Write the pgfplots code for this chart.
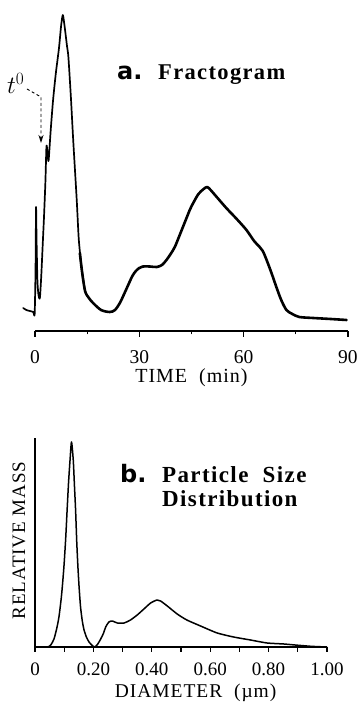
\documentclass[border=0pt]{standalone}
\usepackage{fontspec}
\setmainfont{Liberation Serif}
\newfontfamily\titlefont[LetterSpace=6]{Liberation Serif}
\newfontfamily\labelfont[LetterSpace=5]{Liberation Serif}
\newfontfamily\heavyfont{DejaVu Sans}
\usepackage{pgfplots}
\pgfplotsset{compat=1.18}
\usetikzlibrary{arrows.meta}
\begin{document}
\begin{tikzpicture}
\useasboundingbox (0,0) rectangle (358pt,703pt);
% ---------- a. Fractogram ----------
\begin{axis}[at={(35pt,372pt)}, anchor=south west, scale only axis,
  width=313pt, height=320pt, xmin=0, xmax=90, ymin=0, ymax=320, clip=false,
  axis x line*=bottom, axis y line=none, ytick=\empty,
  xtick={0,30,60,90}, xticklabels={0,30,60,90}, minor xtick={15,45,75},
  tick align=outside, major tick length=6pt, minor tick length=3.5pt,
  tick style={black, line width=1.2pt},
  axis line style={line width=1.4pt},
  xticklabel style={font=\fontsize{19.5}{19.5}\selectfont, anchor=center, inner sep=0pt, yshift=-20pt},
  xlabel={TIME\ \ (min)},
  xlabel style={font=\labelfont\fontsize{20}{20}\selectfont, inner sep=0pt, at={(axis description cs:0.5,-0.145)}, anchor=center}]
\addplot[black, line width=1.7pt, line join=round, line cap=round, smooth, tension=0.4] coordinates {
(-3.4,23) (-2.5,21) (-1.5,20) (-0.5,19) (-0.1,17) (0.15,60) (0.3,124) (0.45,90) (0.7,50) (1.0,36) (1.4,33)
(1.8,55) (2.2,85) (2.6,115) (3.0,150) (3.3,185) (3.6,178) (3.9,170) (4.5,200) (5.2,231) (6.0,258)
(6.9,283) (7.5,305) (8.0,316) (8.5,305) (9.2,285) (9.6,274) (10.3,235) (11.0,190) (12.0,131) (12.6,91) (13.5,60) (14.4,40)
};
\addplot[black, line width=2.6pt, line join=round, line cap=round, smooth, tension=0.5] coordinates {
(12.9,78) (13.5,60) (14.4,40) (15.5,33) (16.7,28) (19,21) (21.5,19) (23,21) (24.4,28) (25.5,36) (26.8,46) (28,55)
(29,60) (30,63) (31,64.5) (33,64.5) (35,64) (36.5,66) (37.8,71) (39,77) (40.2,84) (41.5,95) (43,108)
(44.5,121) (45.5,128) (47,137) (48.5,142) (49.5,144) (50.5,141) (52,135) (55,123) (58,112) (60.8,101)
(63,90) (64.6,84) (65.5,80) (66.6,71) (68,58) (69.4,44) (70.8,31) (72.3,21) (74,17) (76,14) (80,13) (85,12) (89.6,11)
};
\end{axis}
% ---------- b. Particle size distribution ----------
\begin{axis}[at={(35pt,56pt)}, anchor=south west, scale only axis,
  width=292pt, height=209pt, xmin=0, xmax=1, ymin=0, ymax=209, clip=false,
  axis lines*=left, ytick=\empty,
  xtick={0,0.1,0.2,0.3,0.4,0.5,0.6,0.7,0.8,0.9,1.0},
  xticklabels={0,,0.20,,0.40,,0.60,,0.80,,1.00},
  tick align=outside, major tick length=5pt,
  tick style={black, line width=1.1pt},
  axis line style={line width=1.3pt},
  xticklabel style={font=\fontsize{19}{19}\selectfont, anchor=center, inner sep=0pt, yshift=-17pt},
  xlabel={DIAMETER\ \ (µm)},
  xlabel style={font=\labelfont\fontsize{19.5}{19.5}\selectfont, inner sep=0pt, at={(axis description cs:0.55,-0.22)}, anchor=center},
  ylabel={RELATIVE MASS},
  ylabel style={font=\labelfont\fontsize{19}{19}\selectfont, inner sep=0pt, at={(axis description cs:-0.055,0.51)}, anchor=center}]
\addplot[black, line width=1.5pt, line join=round, smooth, tension=0.4] coordinates {
(0,0) (0.042,0) (0.054,2) (0.065,8) (0.074,18) (0.082,30) (0.091,52) (0.099,80) (0.105,108) (0.11,137) (0.115,165) (0.12,187) (0.125,205)
(0.131,187) (0.135,162) (0.139,137) (0.143,105) (0.147,80) (0.151,60) (0.156,40) (0.162,26) (0.168,17) (0.176,10) (0.185,5) (0.196,1.5) (0.205,0)
(0.215,3) (0.225,8) (0.235,14) (0.242,20) (0.253,25) (0.265,26) (0.282,24) (0.305,24) (0.327,27) (0.35,32) (0.373,38) (0.396,44)
(0.418,47) (0.43,46) (0.453,41) (0.487,33) (0.52,27) (0.567,21) (0.624,14) (0.68,10) (0.738,7) (0.795,4) (0.852,3) (0.91,1.5) (0.95,0.6) (1.0,0)
};
\end{axis}
% ---------- annotations ----------
\node[anchor=base west, inner sep=0pt, font=\fontsize{24}{24}\selectfont] at (7pt,609pt) {$t^0$};
\draw[black, line width=0.9pt, dash pattern=on 3pt off 2.5pt, -{Stealth[length=8pt,width=5pt]}] (27pt,614pt) -- (41pt,606pt) -- (41pt,560pt);
\node[anchor=base west, inner sep=0pt, font=\heavyfont\bfseries\fontsize{24}{24}\selectfont] at (117pt,623pt) {a.};
\node[anchor=base west, inner sep=0pt, font=\titlefont\bfseries\fontsize{22.5}{22.5}\selectfont] at (158pt,623pt) {Fractogram};
\node[anchor=base west, inner sep=0pt, font=\heavyfont\bfseries\fontsize{24}{24}\selectfont] at (120pt,220pt) {b.};
\node[anchor=base west, inner sep=0pt, font=\titlefont\bfseries\fontsize{23}{23}\selectfont] at (162pt,220pt) {Particle\ \ Size};
\node[anchor=base west, inner sep=0pt, font=\titlefont\bfseries\fontsize{23}{23}\selectfont] at (162pt,196pt) {Distribution};
\end{tikzpicture}
\end{document}
